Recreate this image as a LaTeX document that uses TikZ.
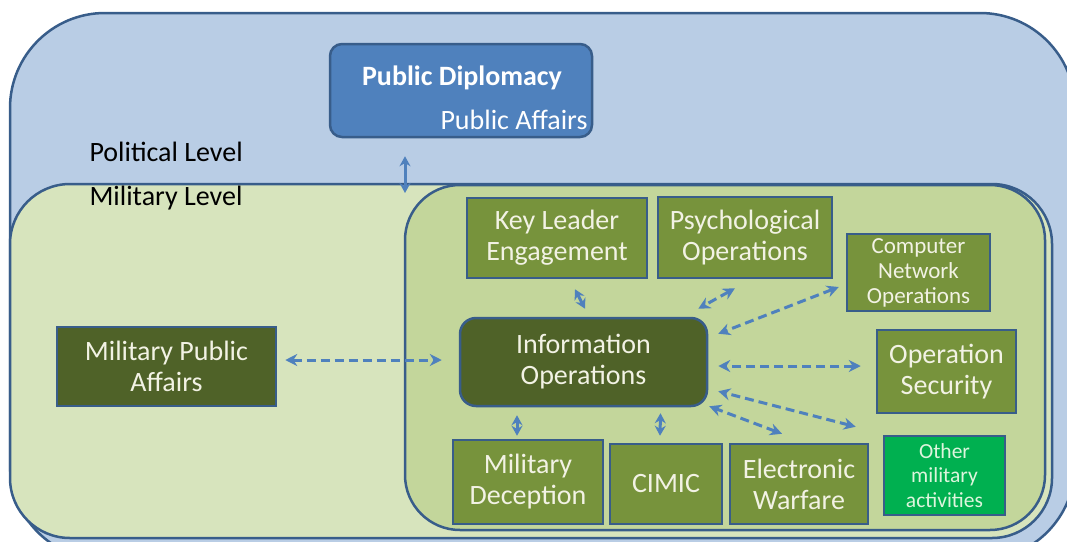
\documentclass[tikz,border=0pt]{standalone}
\usepackage{fontspec}
\setmainfont{Carlito}
\usepackage{tikz}
\usetikzlibrary{shapes}
\usetikzlibrary{arrows.meta}
\usetikzlibrary{positioning}
\usetikzlibrary{calc}
\definecolor{polblue}{HTML}{B9CDE5}
\definecolor{milgreen}{HTML}{D7E4BD}
\definecolor{iogreen}{HTML}{C3D69B}
\definecolor{edgeblue}{HTML}{385D8A}
\definecolor{pdblue}{HTML}{4F81BD}
\definecolor{linkblue}{HTML}{4F81BD}
\definecolor{actgreen}{HTML}{77933C}
\definecolor{darkolive}{HTML}{4F6228}
\definecolor{othgreen}{HTML}{00B050}
\definecolor{boxtext}{HTML}{F2F2E4}
\definecolor{othtext}{HTML}{DDF5DD}
\tikzstyle{levelbox}=[rectangle,draw=edgeblue,line width=2.5pt]
\tikzstyle{levellabel}=[anchor=west,text=black,font=\fontsize{28}{31}\selectfont]
\tikzstyle{activity}=[
        rectangle,
        draw=edgeblue,
        line width=2.5pt,
        fill=actgreen,
        text=boxtext,
        align=center,
        inner sep=2pt,
        font=\fontsize{28}{31}\selectfont
]
\tikzstyle{small}=[font=\fontsize{23}{25}\selectfont]
\tikzstyle{tiny}=[font=\fontsize{21.5}{24.5}\selectfont]
\tikzstyle{twoway}=[{Stealth[length=12pt,width=12pt]}-{Stealth[length=12pt,width=12pt]},line width=3pt,dash pattern=on 9pt off 5pt,draw=linkblue]
\tikzstyle{updown}=[{Stealth[length=10pt,width=11pt]}-{Stealth[length=10pt,width=11pt]},line width=3pt,draw=linkblue]

\begin{document}
\begin{tikzpicture}[x=1pt,y=-1pt]
\useasboundingbox (0,0) rectangle (1067,541);
\node[levelbox,fill=polblue,rounded corners=95pt,minimum width=1065pt,minimum height=547pt] (pol) at (542.5,286.5) {};
\node[levelbox,fill=milgreen,rounded corners=60pt,minimum width=1042pt,minimum height=354pt] (mil) at (531,361) {};
\node[levelbox,fill=iogreen,rounded corners=55pt,minimum width=640pt,minimum height=345pt] (iobox) at (725,357.5) {};
\node[levellabel] (pollabel) at (86,152) {Political Level};
\node[levellabel] (millabel) at (86,198) {Military Level};
%Public diplomacy
\node[levelbox,fill=pdblue,rounded corners=12pt,minimum width=262pt,minimum height=93pt] (pd) at (461,90.5) {};
\node[text=white,font=\fontsize{28}{31}\selectfont\bfseries] (pdtitle) at (462,78) {Public Diplomacy};
\node[text=white,font=\fontsize{28}{31}\selectfont] (pa) at (514,120) {Public Affairs};
\coordinate (gate) at (405,193);
%Boxes
\node[activity,fill=darkolive,minimum width=219pt,minimum height=79pt] (mpa) at (166.5,366.5) {Military Public\\Affairs};
\node[activity,fill=darkolive,rounded corners=16pt,minimum width=247pt,minimum height=88pt] (io) at (583.5,362) {Information\\Operations};
\node[activity,minimum width=180pt,minimum height=80pt] (kle) at (557,238) {Key Leader\\Engagement};
\node[activity,minimum width=174pt,minimum height=81pt] (psy) at (745,237.5) {Psychological\\Operations};
\node[activity,small,minimum width=143pt,minimum height=77pt] (cno) at (918.5,272.5) {Computer\\Network\\Operations};
\node[activity,minimum width=139pt,minimum height=83pt] (ops) at (946.5,371.5) {Operation\\Security};
\node[activity,tiny,fill=othgreen,text=othtext,minimum width=121pt,minimum height=79pt] (oth) at (944.5,475.5) {Other\\military\\activities};
\node[activity,minimum width=150pt,minimum height=84pt] (md) at (528,482) {Military\\Deception};
\node[activity,minimum width=112pt,minimum height=80pt] (cimic) at (666,484) {CIMIC};
\node[activity,minimum width=138pt,minimum height=80pt] (ew) at (799,484) {Electronic\\Warfare};
%Arrows
\draw[updown] ([xshift=-56pt,yshift=-18pt]pd.south) -- (gate);
\draw[twoway] ([xshift=8pt,yshift=6.5pt]mpa.east) -- ([xshift=-17pt,yshift=2pt]io.west);
\draw[updown] ([xshift=18pt,yshift=-10pt]kle.south) -- ([xshift=1.5pt,yshift=8pt]io.north);
\draw[twoway] ([xshift=-10pt,yshift=-9pt]psy.south) -- ([xshift=-10pt,yshift=8pt]io.north east);
\draw[twoway] ([xshift=-7pt,yshift=-14.5pt]cno.west) -- ([xshift=10pt,yshift=-17pt]io.north east);
\draw[twoway] ([xshift=-15pt,yshift=5.5pt]ops.west) -- ([xshift=10pt,yshift=-4pt]io.east);
\draw[twoway] ([xshift=-27pt,yshift=8pt]oth.north west) -- ([xshift=10pt,yshift=16pt]io.south east);
\draw[twoway] ([xshift=-17pt,yshift=9pt]ew.north) -- ([xshift=1pt,yshift=1pt]io.south east);
\draw[updown] ([xshift=-6pt,yshift=7pt]cimic.north) -- ([xshift=77pt,yshift=-6pt]io.south);
\draw[updown] ([xshift=-11pt,yshift=3pt]md.north) -- ([xshift=-66.5pt,yshift=-8pt]io.south);
\end{tikzpicture}
\end{document}
